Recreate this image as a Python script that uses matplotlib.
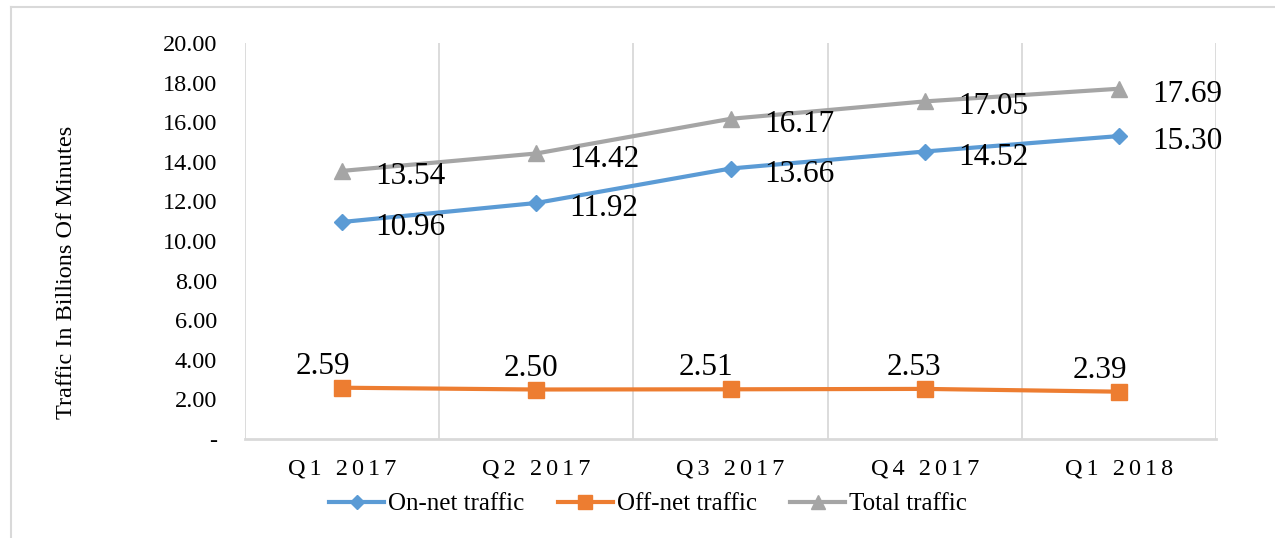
import matplotlib
matplotlib.use("Agg")
import matplotlib.pyplot as plt
from matplotlib.lines import Line2D

categories = ["Q1 2017", "Q2 2017", "Q3 2017", "Q4 2017", "Q1 2018"]
on_net = [10.96, 11.92, 13.66, 14.52, 15.30]
off_net = [2.59, 2.50, 2.51, 2.53, 2.39]
total = [13.54, 14.42, 16.17, 17.05, 17.69]
y_ticks = [0, 2, 4, 6, 8, 10, 12, 14, 16, 18, 20]
y_tick_labels = ["-", "2.00", "4.00", "6.00", "8.00", "10.00", "12.00",
                 "14.00", "16.00", "18.00", "20.00"]

# per-label x offsets (points) for off-net labels, placed above the markers
off_label_dx = [-14, -4, -18, -8, -14]

SERIF = ["Liberation Serif", "DejaVu Serif"]
plt.rcParams["font.family"] = SERIF

BLUE = "#5B9BD5"
ORANGE = "#ED7D31"
GRAY = "#A5A5A5"
GRID = "#D9D9D9"

fig = plt.figure(figsize=(12.75, 5.38), dpi=100)
ax = fig.add_axes([245 / 1275, 1 - 439 / 538, (1216 - 245) / 1275, (439 - 43) / 538])

x = list(range(len(categories)))
l1, = ax.plot(x, on_net, color=BLUE, lw=3, marker="D", ms=8, mec=BLUE, mfc=BLUE, zorder=4)
l2, = ax.plot(x, off_net, color=ORANGE, lw=3, marker="s", ms=11, mec=ORANGE, mfc=ORANGE, zorder=4)
l3, = ax.plot(x, total, color=GRAY, lw=3, marker="^", ms=11, mec=GRAY, mfc=GRAY, zorder=4)

ax.set_xlim(-0.5, len(categories) - 0.5)
ax.set_ylim(0, 20)

# vertical gridlines at category boundaries
for b in [i - 0.5 for i in range(len(categories) + 1)]:
    ax.axvline(b, color=GRID, lw=1.3, zorder=1)

for s in ["top", "right", "left"]:
    ax.spines[s].set_visible(False)
ax.spines["bottom"].set_color(GRID)
ax.spines["bottom"].set_linewidth(2)

ax.set_yticks(y_ticks)
ax.set_yticklabels(y_tick_labels, fontsize=17.5)
ax.tick_params(axis="y", length=0, pad=20)

hs = "\u200a\u200a"
def spaced(lbl):
    q, yr = lbl.split(" ")
    return hs.join(q) + " " + hs + hs + hs.join(yr)

ax.set_xticks(x)
ax.set_xticklabels([spaced(c) for c in categories], fontsize=17.5)
ax.tick_params(axis="x", length=0, pad=14)

fig.text(67 / 1275, 1 - 272 / 538, "Traffic In Billions Of Minutes", rotation=90,
         fontsize=17.5, ha="center", va="center")

# data labels
for xi, v in zip(x, on_net):
    ax.annotate(f"{v:.2f}", (xi, v), xytext=(24, -4), textcoords="offset points",
                ha="left", va="center", fontsize=22.5, zorder=5)
for xi, v in zip(x, total):
    ax.annotate(f"{v:.2f}", (xi, v), xytext=(24, -4), textcoords="offset points",
                ha="left", va="center", fontsize=22.5, zorder=5)
for xi, v, dx in zip(x, off_net, off_label_dx):
    ax.annotate(f"{v:.2f}", (xi, v), xytext=(dx, 5), textcoords="offset points",
                ha="center", va="bottom", fontsize=22.5, zorder=5)

leg = fig.legend([l1, l2, l3], ["On-net traffic", "Off-net traffic", "Total traffic"],
                 loc="center", bbox_to_anchor=(648 / 1275, 1 - 504 / 538), ncol=3,
                 frameon=False, fontsize=18, handlelength=2.2, handletextpad=0.15,
                 columnspacing=1.35, markerscale=0.9)

# outer chart frame (left and top edges visible)
fig.add_artist(Line2D([11 / 1275, 11 / 1275], [0, 1 - 7 / 538], transform=fig.transFigure,
                      color=GRID, lw=1.5))
fig.add_artist(Line2D([11 / 1275, 1], [1 - 7 / 538, 1 - 7 / 538], transform=fig.transFigure,
                      color=GRID, lw=1.5))

fig.savefig("out.png", dpi=100)
